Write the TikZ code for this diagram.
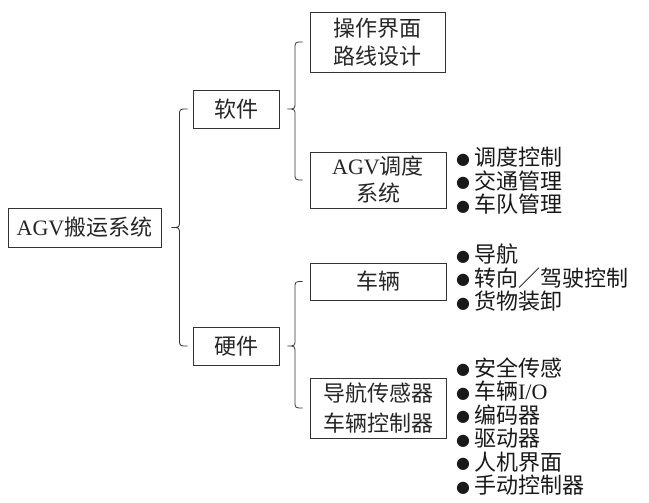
\documentclass[tikz,border=0pt]{standalone}
\usepackage{fontspec}
\setmainfont{Liberation Serif}
\newfontfamily\cjk{Noto Sans CJK SC}
\newfontfamily\sym{DejaVu Sans}
\usetikzlibrary{calc}
\newcommand\curlybr[3]{\draw[brc] let \p1=(#1),\p2=(#2),\p3=(#3),\p4=($(\p1)!.5!(\p2)$) in
  (\x2,\y2) .. controls (\x4,\y2) .. (\x4,{\y2-7pt}) -- (\x4,{\y1+7pt})
  .. controls (\x4,\y1) .. (\x1,\y1) .. controls (\x4,\y1) .. (\x4,{\y1-7pt})
  -- (\x4,{\y3+7pt}) .. controls (\x4,\y3) .. (\x3,\y3);}
\newcommand\itm[1]{\raisebox{1.5pt}{\sym\fontsize{16}{16}\selectfont ●}\hspace{4pt}#1}
\begin{document}
\begin{tikzpicture}[x=1pt,y=-1pt,
  font=\fontsize{22}{28}\selectfont,
  box/.style={draw=black!80, line width=0.8pt, inner sep=0pt, align=center, text=black!85},
  brc/.style={draw=black!80, line width=0.8pt},
  items/.style={anchor=west, align=left, inner sep=0pt, text=black!90, font=\fontsize{22}{23.5}\selectfont}]
\useasboundingbox (0,0) rectangle (649,503);
% boxes
\node[box, minimum width=153pt, minimum height=39pt] (root) at (84.5,227.5) {AGV{\cjk 搬运系统}};
\node[box, minimum width=86pt, minimum height=38pt] (soft) at (236,109) {\cjk 软件};
\node[box, minimum width=86pt, minimum height=38pt] (hard) at (236,346) {\cjk 硬件};
\node[box, minimum width=135pt, minimum height=60pt] (ops) at (377.5,42) {\cjk 操作界面\\\cjk 路线设计};
\node[box, minimum width=136pt, minimum height=56pt, font=\fontsize{22}{27}\selectfont] (sched) at (378,180) {AGV{\cjk 调度}\\\cjk 系统};
\node[box, minimum width=136pt, minimum height=37pt] (veh) at (378,281.5) {\cjk 车辆};
\node[box, minimum width=136pt, minimum height=60pt, font=\fontsize{22}{30}\selectfont] (nav) at (378,408) {\cjk 导航传感器\\\cjk 车辆控制器};
% item lists
\node[items] (l1) at (456,181) {\itm{\cjk 调度控制}\\\itm{\cjk 交通管理}\\\itm{\cjk 车队管理}};
\node[items] (l2) at (456,278) {\itm{\cjk 导航}\\\itm{\cjk 转向／驾驶控制}\\\itm{\cjk 货物装卸}};
\node[items] (l3) at (456,426.5) {\itm{\cjk 安全传感}\\\itm{{\cjk 车辆}I/O}\\\itm{\cjk 编码器}\\\itm{\cjk 驱动器}\\\itm{\cjk 人机界面}\\\itm{\cjk 手动控制器}};
% brace anchor points
\coordinate (t1) at ($(root.east)+(10,0)$);
\coordinate (a1) at ($(soft.west)+(-5,0)$);
\coordinate (b1) at ($(hard.west)+(-5,0)$);
\coordinate (t2) at ($(soft.east)+(8,0)$);
\coordinate (a2) at ($(ops.west)+(-7,0)$);
\coordinate (b2) at ($(sched.west)+(-7,0)$);
\coordinate (t3) at ($(hard.east)+(8,0)$);
\coordinate (a3) at ($(veh.west)+(-7,0)$);
\coordinate (b3) at ($(nav.west)+(-7,0)$);
\curlybr{t1}{a1}{b1}
\curlybr{t2}{a2}{b2}
\curlybr{t3}{a3}{b3}
\end{tikzpicture}
\end{document}
